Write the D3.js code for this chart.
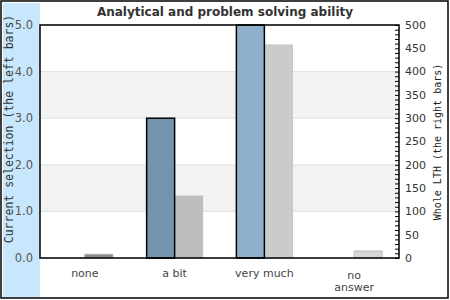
<!DOCTYPE html>
<html>
<head>
<meta charset="utf-8">
<script src="https://cdn.jsdelivr.net/npm/d3@7"></script>
<style>
  body { margin: 0; background: #fff; }
  svg { display: block; font-family: "DejaVu Sans", sans-serif; }
</style>
</head>
<body>
<div id="chart"></div>
<script>
var width = 450;
var height = 300;

// data
var categories = ["none", "a bit", "very much", "no answer"];
var currentSelection = [0, 3.0, 5.0, 0];        // left bars, left axis
var wholeLTH = [8, 133, 457, 15];               // right bars, right axis
var leftTicks = [0, 1, 2, 3, 4, 5];
var rightTicks = [0, 50, 100, 150, 200, 250, 300, 350, 400, 450, 500];

var leftColors = ["#7f9fb9", "#7393ae", "#8eb0cc", "#9cbcd6"];
var rightColors = ["#8a8a8a", "#bdbdbd", "#cbcbcb", "#d6d6d6"];
var rightStrokes = ["#b0b0b0", "#bdbdbd", "#c2c2c2", "#bcbcbc"];

var margin = {left: 40, right: 51, top: 25, bottom: 42};
var plotW = width - margin.left - margin.right;
var plotH = height - margin.top - margin.bottom;

var svg = d3.select("#chart")
  .append("svg")
  .attr("width", width)
  .attr("height", height)

// light blue band on the left
svg.append("rect")
  .attr("x", 3).attr("y", 3)
  .attr("width", 37).attr("height", 294)
  .attr("fill", "#c8e7fc")

var x = d3.scaleBand()
  .domain(categories)
  .range([margin.left, margin.left + plotW])

var yL = d3.scaleLinear()
  .domain([0, 5])
  .range([margin.top + plotH, margin.top])

var yR = d3.scaleLinear()
  .domain([0, 500])
  .range([margin.top + plotH, margin.top])

// alternating bands
svg.append("g")
  .selectAll("rect")
  .data(leftTicks.slice(0, -1))
  .join("rect")
    .attr("x", margin.left)
    .attr("y", d => yL(d + 1))
    .attr("width", plotW)
    .attr("height", d => yL(d) - yL(d + 1))
    .attr("fill", d => (d % 2 == 1) ? "#f2f2f2" : "#ffffff")

// grid lines
svg.append("g")
  .selectAll("line")
  .data(leftTicks)
  .join("line")
    .attr("x1", margin.left)
    .attr("x2", margin.left + plotW)
    .attr("y1", d => yL(d))
    .attr("y2", d => yL(d))
    .attr("stroke", "#e0e0e0")
    .attr("stroke-width", 1)

var barW = 28;

// right (grey) bars
svg.append("g")
  .selectAll("rect")
  .data(wholeLTH)
  .join("rect")
    .attr("x", (d, i) => x(categories[i]) + x.bandwidth() / 2)
    .attr("y", d => yR(d))
    .attr("width", barW)
    .attr("height", d => yR(0) - yR(d))
    .attr("fill", (d, i) => rightColors[i])
    .attr("stroke", (d, i) => rightStrokes[i])
    .attr("stroke-width", 1)

// left (blue) bars
svg.append("g")
  .selectAll("rect")
  .data(currentSelection)
  .join("rect")
    .attr("x", (d, i) => x(categories[i]) + x.bandwidth() / 2 - barW)
    .attr("y", d => yL(d))
    .attr("width", barW)
    .attr("height", d => yL(0) - yL(d))
    .attr("fill", (d, i) => leftColors[i])
    .attr("stroke", "#000")
    .attr("stroke-width", 1.5)
    .style("display", d => d > 0 ? null : "none")

// plot frame
svg.append("rect")
  .attr("x", margin.left).attr("y", margin.top)
  .attr("width", plotW).attr("height", plotH)
  .attr("fill", "none")
  .attr("stroke", "#000")
  .attr("stroke-width", 1.5)

// left axis labels
svg.append("g")
  .selectAll("text")
  .data(leftTicks)
  .join("text")
    .attr("x", 33)
    .attr("y", d => yL(d))
    .attr("dy", "0.35em")
    .attr("text-anchor", "end")
    .style("font-size", "11.5px")
    .style("fill", "#555")
    .text(d => d3.format(".1f")(d))

// right axis ticks (inward, minor every 10)
var rAxis = d3.axisLeft(yR)
  .tickValues(d3.range(0, 501, 10))
  .tickSize(4)
  .tickFormat("")
svg.append("g")
  .attr("transform", "translate(" + (margin.left + plotW) + ",0)")
  .call(rAxis)
  .call(g => g.select(".domain").remove())
  .call(g => g.selectAll("line").attr("stroke", "#000"))

svg.append("g")
  .selectAll("text")
  .data(rightTicks)
  .join("text")
    .attr("x", 405)
    .attr("y", d => yR(d))
    .attr("dy", "0.35em")
    .style("font-size", "11px")
    .style("fill", "#333")
    .text(d => d)

// category labels
svg.append("g")
  .selectAll("text")
  .data(categories)
  .join("text")
    .attr("text-anchor", "middle")
    .attr("y", 273)
    .style("font-size", "11px")
    .style("fill", "#444")
    .each(function(d) {
      var t = d3.select(this);
      var cx = x(d) + x.bandwidth() / 2;
      var words = d == "no answer" ? ["no", "answer"] : [d];
      words.forEach(function(w, k) {
        t.append("tspan")
          .attr("x", cx)
          .attr("dy", k == 0 ? (words.length > 1 ? "0.55em" : "0.35em") : "1.1em")
          .text(w)
      })
    })

// title
svg.append("text")
  .attr("x", 225)
  .attr("y", 16)
  .attr("text-anchor", "middle")
  .style("font-size", "12px")
  .style("font-weight", "bold")
  .style("fill", "#333")
  .text("Analytical and problem solving ability")

// axis titles
svg.append("text")
  .attr("transform", "translate(13,129) rotate(-90)")
  .attr("text-anchor", "middle")
  .style("font-family", "DejaVu Sans Mono, monospace")
  .style("font-size", "11.5px")
  .style("fill", "#333")
  .text("Current selection (the left bars)")

svg.append("text")
  .attr("transform", "translate(441,142) rotate(-90)")
  .attr("text-anchor", "middle")
  .style("font-family", "DejaVu Sans Mono, monospace")
  .style("font-size", "10px")
  .style("fill", "#222")
  .text("Whole LTH (the right bars)")

// outer frame
svg.append("rect")
  .attr("x", 1).attr("y", 1)
  .attr("width", 447).attr("height", 297)
  .attr("fill", "none")
  .attr("stroke", "#000")
  .attr("stroke-width", 1.5)
</script>
</body>
</html>
